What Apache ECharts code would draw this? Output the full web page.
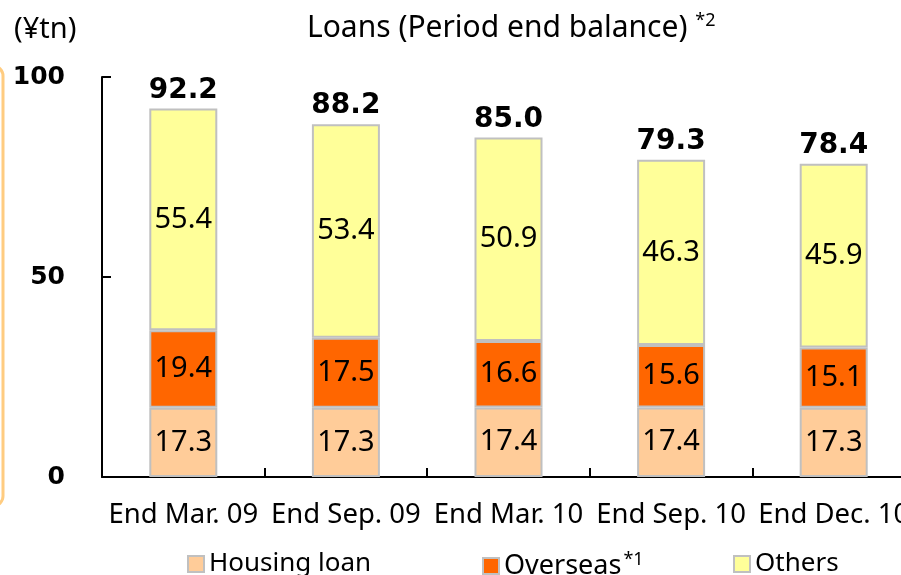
<!DOCTYPE html>
<html>
<head>
<meta charset="utf-8">
<script src="https://cdn.jsdelivr.net/npm/echarts@6/dist/echarts.min.js"></script>
<style>
  html, body { margin: 0; padding: 0; background: #fff; }
  #chart { width: 901px; height: 575px; }
</style>
</head>
<body>
<div id="chart"></div>
<script>
var periods = ['End Mar. 09', 'End Sep. 09', 'End Mar. 10', 'End Sep. 10', 'End Dec. 10'];
var housing = [17.3, 17.3, 17.4, 17.4, 17.3];
var overseas = [19.4, 17.5, 16.6, 15.6, 15.1];
var others = [55.4, 53.4, 50.9, 46.3, 45.9];
var totals = [92.2, 88.2, 85.0, 79.3, 78.4];

var dom = document.getElementById('chart');
var myChart = echarts.init(dom, null, { renderer: 'canvas' });

var txtFont = 'Noto Sans';
var boldFont = 'DejaVu Sans';

var segLabel = {
  show: true,
  position: 'inside',
  color: '#000',
  fontFamily: txtFont,
  fontSize: 29,
  formatter: function (p) { return p.value.toFixed(1); }
};
var segBorder = { borderColor: '#C0C0C0', borderWidth: 2 };

function legendAt(name, left) {
  return {
    data: [name],
    left: left,
    top: 546,
    icon: 'rect',
    itemWidth: 16,
    itemHeight: 16,
    itemGap: 0,
    textStyle: {
      fontFamily: txtFont, fontSize: 26, color: '#000',
      rich: {
        t: { fontFamily: txtFont, fontSize: 27, color: '#000' },
        sup: { fontFamily: txtFont, fontSize: 18, color: '#000', verticalAlign: 'top', padding: [0, 0, 12, 2] }
      }
    },
    formatter: function (n) {
      return n === 'Overseas' ? '{t|Overseas}{sup|*1}' : n;
    }
  };
}

var option = {
  animation: false,
  title: {
    text: 'Loans (Period end balance) {sup|*2}',
    left: 302,
    top: 7,
    textStyle: {
      fontFamily: txtFont, fontSize: 30, fontWeight: 'normal', color: '#000',
      rich: {
        sup: { fontFamily: txtFont, fontSize: 18, color: '#000', padding: [0, 0, 14, 0] }
      }
    }
  },
  graphic: [
    {
      type: 'text', left: 14, top: 15,
      style: { text: '(¥tn)', fontFamily: txtFont, fontSize: 29, fill: '#000' }
    },
    {
      type: 'rect',
      shape: { x: -30, y: 66, width: 33, height: 440, r: 10 },
      style: { fill: 'none', stroke: '#FFCC80', lineWidth: 3 }
    }
  ],
  legend: [
    legendAt('Housing loan', 182),
    legendAt('Overseas', 477),
    legendAt('Others', 728)
  ],
  // plot area runs past the right edge, so the last label is clipped
  grid: { left: 102, right: -14, top: 77, bottom: 98, containLabel: false, outerBoundsMode: 'none' },
  xAxis: {
    type: 'category',
    data: periods,
    axisLine: { lineStyle: { color: '#000', width: 2 } },
    axisTick: { show: true, inside: true, interval: 0, length: 9, lineStyle: { color: '#000', width: 2 } },
    axisLabel: { color: '#000', fontFamily: txtFont, fontSize: 27.5, margin: 24, interval: 0 }
  },
  yAxis: {
    type: 'value',
    min: 0,
    max: 100,
    interval: 50,
    splitLine: { show: false },
    axisLine: { show: true, lineStyle: { color: '#000', width: 2 } },
    axisTick: { show: true, inside: true, length: 9, lineStyle: { color: '#000', width: 2 } },
    axisLabel: { color: '#000', fontFamily: boldFont, fontWeight: 'bold', fontSize: 25, margin: 37 }
  },
  series: [
    {
      name: 'Housing loan', type: 'bar', stack: 'a', barWidth: 68,
      data: housing,
      itemStyle: Object.assign({ color: '#FFCC99' }, segBorder),
      label: segLabel
    },
    {
      name: 'Overseas', type: 'bar', stack: 'a', barWidth: 68,
      data: overseas,
      itemStyle: Object.assign({ color: '#FF6600' }, segBorder),
      label: segLabel
    },
    {
      name: 'Others', type: 'bar', stack: 'a', barWidth: 68,
      data: others,
      itemStyle: Object.assign({ color: '#FFFF99' }, segBorder),
      label: segLabel
    },
    {
      name: 'Total', type: 'bar', stack: 'a', barWidth: 68,
      data: totals.map(function () { return 0; }),
      itemStyle: { color: 'transparent', borderWidth: 0 },
      label: {
        show: true, position: 'top', distance: 4, color: '#000',
        fontFamily: boldFont, fontWeight: 'bold', fontSize: 28,
        formatter: function (p) { return totals[p.dataIndex].toFixed(1); }
      }
    }
  ]
};

myChart.setOption(option);
window.addEventListener('resize', myChart.resize);
</script>
</body>
</html>
